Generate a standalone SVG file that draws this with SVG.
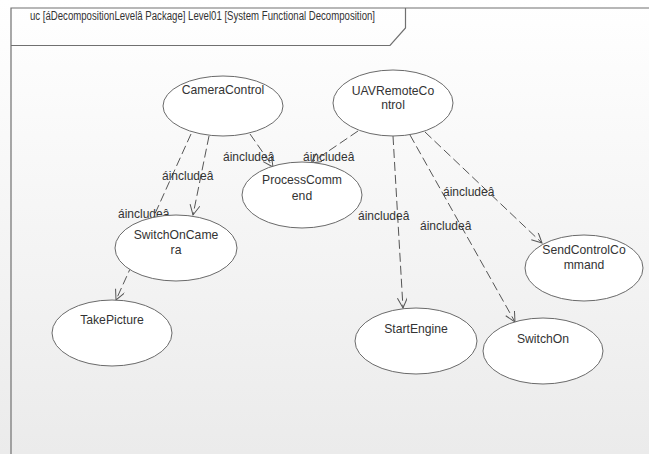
<svg xmlns="http://www.w3.org/2000/svg" width="649" height="454" viewBox="0 0 649 454">
<defs>
<linearGradient id="bg" x1="0" y1="0" x2="0" y2="1">
<stop offset="0" stop-color="#ffffff"/>
<stop offset="1" stop-color="#ebebeb"/>
</linearGradient>
<marker id="open" markerWidth="14" markerHeight="12" refX="11" refY="5" orient="auto" markerUnits="userSpaceOnUse">
<path d="M1,0 L11,5 L1,10" fill="none" stroke="#555" stroke-width="1"/>
</marker>
<style>
.frame{fill:none;stroke:#707070;stroke-width:1.2}
.uc ellipse{fill:#ffffff;stroke:#6a6a6a;stroke-width:1}
.uc text{font-family:"Liberation Sans",Arial,sans-serif;font-size:12.2px;fill:#333;text-anchor:middle}
.dep{fill:none;stroke:#555;stroke-width:1;stroke-dasharray:9 4;marker-end:url(#open)}
.lbl{font-family:"Liberation Sans",Arial,sans-serif;font-size:12px;fill:#333}
.hdr{font-family:"Liberation Sans",Arial,sans-serif;font-size:12.5px;fill:#333}
</style>
</defs>
<rect x="0" y="0" width="649" height="454" fill="url(#bg)"/>
<g id="frame">
<path class="frame" d="M11,454 L11,8 L649,8"/>
<path class="frame" d="M11,45.5 L390,45.5 L405.5,28 L405.5,8"/>
<text class="hdr" x="30" y="19.5" textLength="345" lengthAdjust="spacingAndGlyphs">uc [áDecompositionLevelâ Package] Level01 [System Functional Decomposition]</text>
</g>
<g id="connectors">
<path class="dep" d="M209,136 L193,215"/>
<path class="dep" d="M191,134 L116,300"/>
<path class="dep" d="M250,134 L273,167"/>
<path class="dep" d="M358,131 L311,163"/>
<path class="dep" d="M393,136 L403,308"/>
<path class="dep" d="M410,135 L515,322"/>
<path class="dep" d="M425,132 L542,243"/>
<text class="lbl" x="162" y="180">áincludeâ</text>
<text class="lbl" x="118" y="218">áincludeâ</text>
<text class="lbl" x="223" y="161">áincludeâ</text>
<text class="lbl" x="303" y="161">áincludeâ</text>
<text class="lbl" x="358" y="220">áincludeâ</text>
<text class="lbl" x="420" y="230">áincludeâ</text>
<text class="lbl" x="443" y="196">áincludeâ</text>
</g>
<g id="CameraControl" class="uc">
<ellipse cx="223" cy="106" rx="60" ry="30"/>
<text x="223" y="94">CameraControl</text>
</g>
<g id="UAVRemoteControl" class="uc">
<ellipse cx="393" cy="103" rx="60" ry="33"/>
<text x="393" y="95">UAVRemoteCo</text>
<text x="393" y="109">ntrol</text>
</g>
<g id="ProcessCommend" class="uc">
<ellipse cx="302" cy="195" rx="60" ry="33"/>
<text x="302" y="184">ProcessComm</text>
<text x="302" y="200">end</text>
</g>
<g id="SwitchOnCamera" class="uc">
<ellipse cx="176" cy="248" rx="61" ry="33"/>
<text x="176" y="239">SwitchOnCame</text>
<text x="176" y="254">ra</text>
</g>
<g id="TakePicture" class="uc">
<ellipse cx="112" cy="333" rx="60" ry="33"/>
<text x="112" y="324">TakePicture</text>
</g>
<g id="StartEngine" class="uc">
<ellipse cx="416" cy="341" rx="61" ry="33"/>
<text x="416" y="333">StartEngine</text>
</g>
<g id="SwitchOn" class="uc">
<ellipse cx="543" cy="351" rx="60" ry="33"/>
<text x="543" y="343">SwitchOn</text>
</g>
<g id="SendControlCommand" class="uc">
<ellipse cx="584" cy="268" rx="59" ry="33"/>
<text x="584" y="254">SendControlCo</text>
<text x="584" y="269">mmand</text>
</g>
</svg>
